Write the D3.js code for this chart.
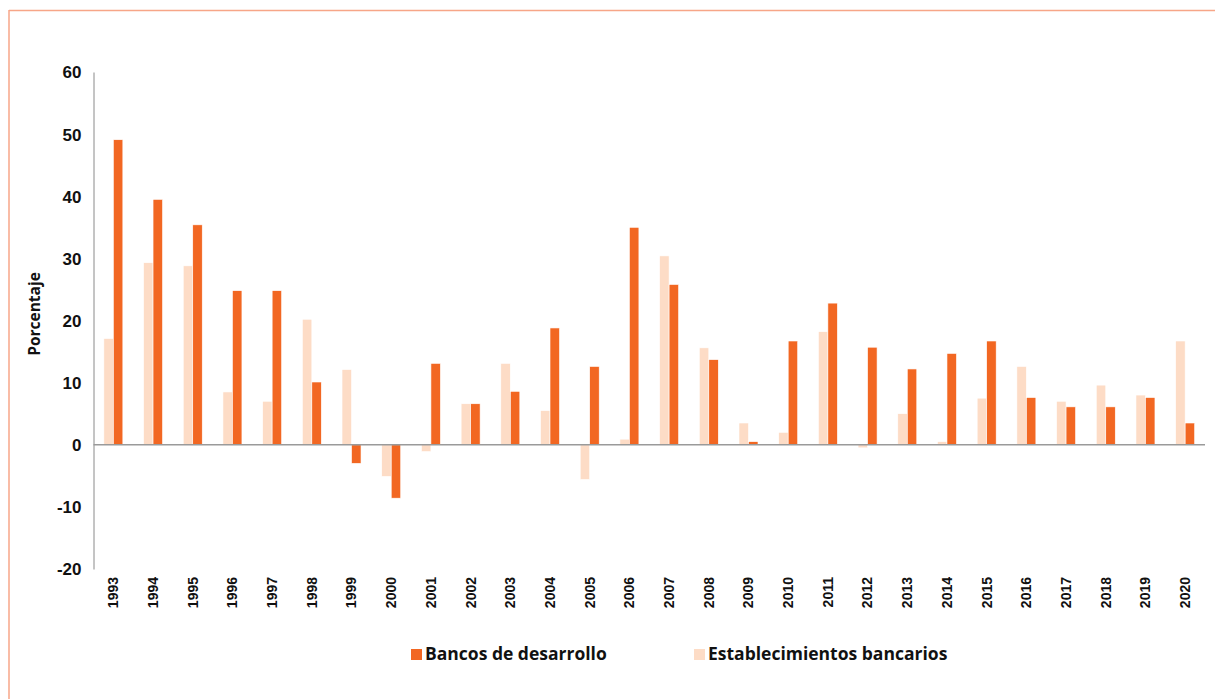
<!DOCTYPE html>
<html><head><meta charset="utf-8">
<script src="https://cdn.jsdelivr.net/npm/d3@7"></script>
<style>body{margin:0;background:#fff;}svg{display:block;font-family:"Open Sans","Noto Sans",sans-serif;}</style>
</head><body><svg id="c" width="1215" height="699"></svg>
<script>
const years = ["1993","1994","1995","1996","1997","1998","1999","2000","2001","2002","2003","2004","2005","2006","2007","2008","2009","2010","2011","2012","2013","2014","2015","2016","2017","2018","2019","2020"];
const bancosDesarrollo = [49.1,39.5,35.4,24.8,24.8,10.1,-3.0,-8.6,13.1,6.6,8.6,18.8,12.6,35.0,25.8,13.7,0.5,16.7,22.8,15.7,12.2,14.7,16.7,7.6,6.1,6.1,7.6,3.5];
const establecimientos = [17.1,29.3,28.8,8.5,7.0,20.2,12.1,-5.1,-1.1,6.6,13.1,5.5,-5.6,0.9,30.4,15.6,3.5,2.0,18.2,-0.5,5.0,0.5,7.5,12.6,7.0,9.6,8.0,16.7];
const yTicks = [60,50,40,30,20,10,0,-10,-20];
const seriesNames = ["Establecimientos bancarios","Bancos de desarrollo"];
const colors = {"Bancos de desarrollo":"#F26722","Establecimientos bancarios":"#FDDCC6"};

const svg = d3.select("#c");
// frame lines
svg.append("line").attr("x1",9).attr("x2",1215).attr("y1",10.5).attr("y2",10.5).attr("stroke","#F7A688").attr("stroke-width",1.5);
svg.append("line").attr("x1",9).attr("x2",9).attr("y1",10).attr("y2",699).attr("stroke","#F7A688").attr("stroke-width",1.5);

const x = d3.scaleBand().domain(years).range([93.5,1205]).paddingInner(0).paddingOuter(0);
const y = d3.scaleLinear().domain([-20,60]).range([569,72]);

const data = years.map((yr,i)=>({year:yr, vals:[{s:"Establecimientos bancarios",v:establecimientos[i]},{s:"Bancos de desarrollo",v:bancosDesarrollo[i]}]}));

const barW = 9.5;
const g = svg.append("g");
g.selectAll("g.yr").data(data).join("g").attr("class","yr")
 .attr("transform",d=>`translate(${x(d.year)+x.bandwidth()/2},0)`)
 .selectAll("rect").data(d=>d.vals).join("rect")
 .attr("x",(d,i)=> i===0 ? -barW : 0)
 .attr("width",barW)
 .attr("y",d=>y(Math.max(0,d.v)))
 .attr("height",d=>Math.abs(y(d.v)-y(0)))
 .attr("fill",d=>colors[d.s])
 .attr("stroke","#fff").attr("stroke-width",0.6);

// y axis
const yAxis = d3.axisLeft(y).tickValues(yTicks).tickSize(0).tickPadding(12).tickFormat(d=>String(d));
const ya = svg.append("g").attr("transform","translate(93.5,0)").call(yAxis);
ya.select(".domain").attr("stroke","#8a8a8a").attr("stroke-width",1);
ya.selectAll("text").attr("font-size","17px").attr("font-weight","bold").attr("fill","#111").attr("dy","0.35em");

// zero line
svg.append("line").attr("x1",93.5).attr("x2",1205).attr("y1",y(0)).attr("y2",y(0)).attr("stroke","#9a9a9a").attr("stroke-width",1.5);

// x labels
const xAxis = d3.axisBottom(x).tickSize(0).tickPadding(0);
const xa = svg.append("g").attr("transform","translate(0,577)").call(xAxis);
xa.select(".domain").remove();
xa.selectAll("text").attr("font-size","14px").attr("font-weight","bold").attr("fill","#111")
  .attr("text-anchor","end").attr("transform","rotate(-90)").attr("x",0).attr("y",0).attr("dx",0).attr("dy","0.35em");

// y title
svg.append("text").attr("transform","translate(40,314) rotate(-90)").attr("text-anchor","middle")
  .attr("font-size","15.5px").attr("font-weight","bold").attr("fill","#111").text("Porcentaje");

// legend
const legend = [{s:"Bancos de desarrollo",x:411},{s:"Establecimientos bancarios",x:694}];
const lg = svg.append("g").selectAll("g").data(legend).join("g").attr("transform",d=>`translate(${d.x},649)`);
lg.append("rect").attr("width",11).attr("height",11).attr("fill",d=>colors[d.s]);
lg.append("text").attr("x",14).attr("y",11).attr("font-size","17.5px").attr("font-weight","bold").attr("fill","#111").text(d=>d.s);
</script></body></html>
